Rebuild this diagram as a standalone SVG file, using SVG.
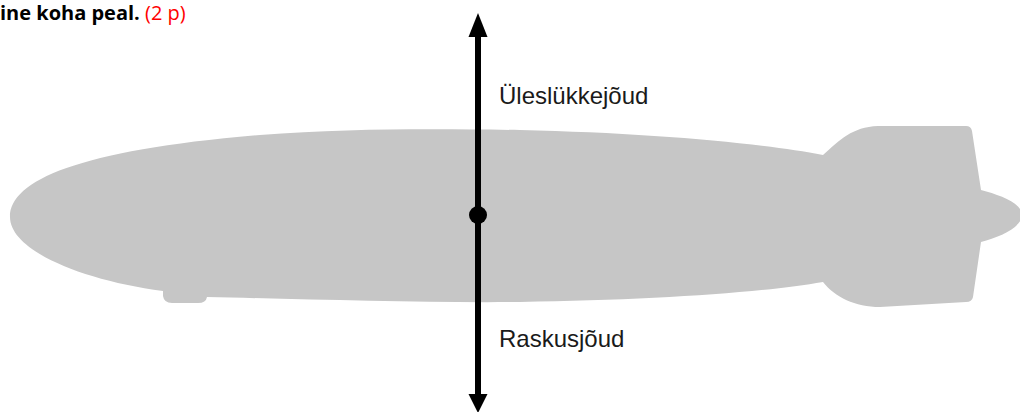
<svg xmlns="http://www.w3.org/2000/svg" width="1020" height="412" viewBox="0 0 1020 412">
  <defs>
    <style>
      .hull { fill: #c6c6c6; }
      .force { stroke: #000; stroke-width: 6; fill: none; }
      .head { fill: #000; }
      .label { font-family: "Liberation Sans", Arial, sans-serif; font-size: 24px; fill: #1a1a1a; }
      .title { font-family: "Open Sans", "Liberation Sans", sans-serif; font-size: 20px; font-weight: bold; fill: #000; }
      .points { font-weight: normal; fill: #ff0000; }
    </style>
  </defs>

  <rect width="1020" height="412" fill="#ffffff"/>

  <!-- heading line -->
  <g id="heading">
    <text class="title" x="0" y="20">ine koha peal. <tspan class="points">(2 p)</tspan></text>
  </g>

  <!-- airship silhouette -->
  <g id="airship">
    <path class="hull" d="M 10 217
      C 10 180, 80 150, 260 135
      C 350 128, 440 129, 520 130
      C 650 133, 760 143, 823 155
      C 840 140, 852 127, 878 126
      L 966 126
      Q 971 126, 972 131
      L 981 190
      C 1000 195, 1022 203, 1022 215
      C 1022 227, 1000 237, 981 242
      L 973 297
      Q 972 302, 966 302
      L 880 307
      C 855 307, 835 297, 823 282
      C 760 293, 650 300, 520 302
      C 420 303, 300 299, 207 297
      Q 206 303, 198 303
      L 172 303
      Q 164 303, 163 296
      L 163 291
      C 80 280, 10 250, 10 217 Z"/>
  </g>

  <!-- force vectors acting at the centre point -->
  <g id="connectors">
    <line class="force" x1="478" y1="34" x2="478" y2="396"/>
    <polygon class="head" points="478,13 468.5,37 487.5,37"/>
    <polygon class="head" points="478,413 468.5,394 487.5,394"/>
  </g>

  <g id="center-point">
    <circle cx="478" cy="215" r="9" fill="#000"/>
  </g>

  <g id="buoyancy-label">
    <text class="label" x="499" y="104">Üleslükkejõud</text>
  </g>

  <g id="gravity-label">
    <text class="label" x="499" y="347">Raskusjõud</text>
  </g>
</svg>
